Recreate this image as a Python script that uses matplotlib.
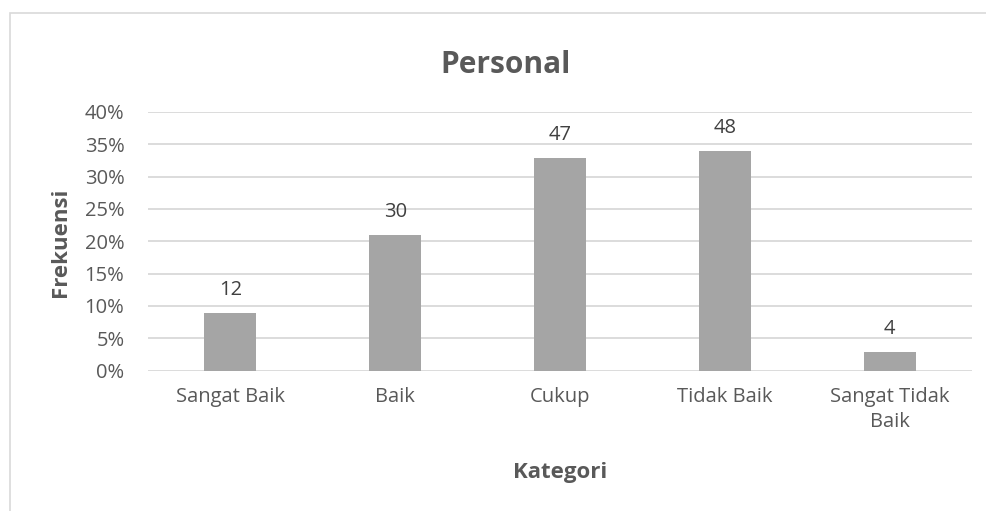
import matplotlib
matplotlib.use("Agg")
import matplotlib.pyplot as plt
from matplotlib.patches import Rectangle
from matplotlib.ticker import FuncFormatter

categories = ["Sangat Baik", "Baik", "Cukup", "Tidak Baik", "Sangat Tidak\nBaik"]
counts = [12, 30, 47, 48, 4]
percent = [8.9, 21.0, 32.9, 34.0, 2.9]
yticks = [0, 5, 10, 15, 20, 25, 30, 35, 40]

TEXT = "#595959"
GRID = "#D9D9D9"
BAR = "#A5A5A5"
plt.rcParams['font.family'] = ['Open Sans', 'DejaVu Sans']

W, H = 987, 511
fig = plt.figure(figsize=(W/100, H/100), dpi=100)
ax = fig.add_axes([148/W, 1-370.5/H, (972-148)/W, (370.5-112)/H])

x = list(range(len(categories)))
ax.bar(x, percent, width=0.315, color=BAR, zorder=3)
for xi, p, c in zip(x, percent, counts):
    ax.annotate(str(c), (xi, p), xytext=(0, 13), textcoords="offset points",
                ha="center", va="baseline", fontsize=14.5, color="#404040")

ax.set_xlim(-0.5, len(categories)-0.5)
ax.set_ylim(0, 40)
ax.set_yticks(yticks)
ax.yaxis.set_major_formatter(FuncFormatter(lambda v, _: f"{int(v)}%"))
ax.set_xticks(x)
ax.set_xticklabels(categories, fontsize=14.5, color=TEXT, linespacing=1.3)
ax.tick_params(axis='y', labelsize=14.5, labelcolor=TEXT, length=0, pad=17)
ax.tick_params(axis='x', length=0, pad=12)
ax.grid(axis='y', color=GRID, linewidth=1.3, zorder=0)
for s in ax.spines.values():
    s.set_visible(False)

fig.text(61/W, 1-242/H, "Frekuensi", rotation=90, ha="center", va="center",
         fontsize=16, fontweight="bold", color=TEXT)
fig.text(560/W, 1-478/H, "Kategori", ha="center", va="baseline",
         fontsize=16, fontweight="bold", color=TEXT)
fig.text(506/W, 1-73/H, "Personal", ha="center", va="baseline",
         fontsize=21.5, fontweight="bold", color=TEXT)

fig.add_artist(Rectangle((10/W, -0.1), 1.2, 1.1-13/H, transform=fig.transFigure,
                         fill=False, ec=GRID, lw=1.2))

fig.savefig("out.png", dpi=100, facecolor="white")
